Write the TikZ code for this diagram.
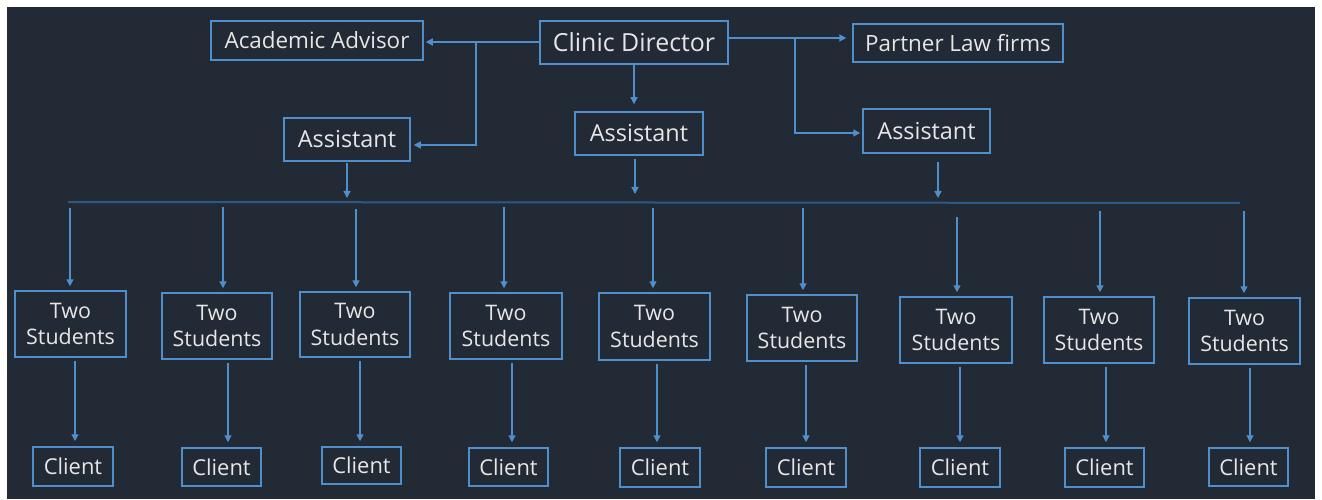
\documentclass[tikz,border=0pt]{standalone}
\usepackage{fontspec}
\setmainfont{Open Sans}
\usetikzlibrary{arrows.meta}
\definecolor{bg}{HTML}{222A35}
\definecolor{ln}{HTML}{4F8FCC}
\definecolor{bus}{HTML}{2C5A88}
\definecolor{tx}{HTML}{E7E6E6}
\tikzset{
  box/.style={draw=ln, line width=1.5bp, inner sep=0pt, text=tx, align=center, fill=bg},
  arr/.style={draw=ln, line width=1.3bp, -{Triangle[length=7bp,width=7bp]}},
  stud/.style={box, font=\fontsize{21.5}{27}\selectfont},
  cli/.style={box, font=\fontsize{22}{26}\selectfont},
}
\begin{document}
\begin{tikzpicture}[x=1bp,y=-1bp]
\useasboundingbox (0,0) rectangle (1322,500);
\fill[white] (0,0) rectangle (1322,500);
\fill[bg] (7,7) rectangle (1315,499);
% top nodes
\node[box, minimum width=188bp, minimum height=43bp, font=\fontsize{25}{28}\selectfont] (cd) at (634,42.5) {Clinic Director};
\node[box, minimum width=212bp, minimum height=39bp, font=\fontsize{22.5}{26}\selectfont] (aa) at (317,40.5) {Academic Advisor};
\node[box, minimum width=210bp, minimum height=38bp, font=\fontsize{22.5}{26}\selectfont] (pl) at (958,43) {Partner Law firms};
\node[box, minimum width=126bp, minimum height=43bp, font=\fontsize{23.5}{27}\selectfont] (al) at (347,139.5) {Assistant};
\node[box, minimum width=128bp, minimum height=43bp, font=\fontsize{23.5}{27}\selectfont] (am) at (639,133.5) {Assistant};
\node[box, minimum width=127bp, minimum height=44bp, font=\fontsize{23.5}{27}\selectfont] (ar) at (926.5,131) {Assistant};
\coordinate (j1) at (476,42);
\coordinate (j2) at (795,38);
\draw[arr, shorten >=2bp] (cd.west |- j1) -- (aa.east |- j1);
\draw[arr, shorten >=3bp] (j1) -- (j1 |- 0,145) -- (al.east |- 0,145);
\draw[arr, shorten >=7bp] (cd.south -| 634,0) -- (am.north -| 634,0);
\draw[arr, shorten >=6bp] (cd.east |- j2) -- (pl.west |- j2);
\draw[arr, shorten >=2bp] (j2) -- (j2 |- 0,133) -- (ar.west |- 0,133);
% bus
\coordinate (b1) at (68,202);
\coordinate (b2) at (1240,203);
\draw[draw=bus, line width=2bp] (b1) -- (b2);
\draw[arr, shorten <=1bp, shorten >=4bp] (al.south -| 347,0) -- (b1 -| 347,0);
\draw[arr, shorten <=3bp, shorten >=8bp] (am.south -| 635,0) -- (b1 -| 635,0);
\draw[arr, shorten <=8bp, shorten >=5bp] (ar.south -| 938,0) -- (b2 -| 938,0);
% columns
\foreach \i/\ax/\ay/\xa/\ya/\xb/\yb/\bx/\ca/\cb/\cc/\cd in {
  1/70/208/15/291/126/357/75/33/447/113/486,
  2/223/207/162/293/272/359/228/182/448/261/486,
  3/356/209/300/292/410/357/360/322/447/401/484,
  4/504/207/450/293/562/359/512/469/448/548/486,
  5/653/208/599/293/710/360/657/620/448/700/487,
  6/803/208/747/295/857/361/806/766/448/846/487,
  7/957/217/900/297/1012/363/960/920/448/1000/487,
  8/1100/211/1044/297/1154/363/1106/1065/448/1144/487,
  9/1244/211/1189/298/1300/364/1250/1209/448/1288/486}{
  \node[stud, minimum width={(\xb-\xa)*1bp}, minimum height={(\yb-\ya)*1bp}] (s\i) at ({(\xa+\xb)/2},{(\ya+\yb)/2}) {Two\\Students};
  \node[cli, minimum width={(\cc-\ca)*1bp}, minimum height={(\cd-\cb)*1bp}] (c\i) at ({(\ca+\cc)/2},{(\cb+\cd)/2}) {Client};
  \coordinate (u\i) at (\ax,\ay);
  \coordinate (v\i) at (\bx,0);
  \draw[arr, shorten >=4bp] (u\i) -- (u\i |- s\i.north);
  \draw[arr, shorten <=3bp, shorten >=5bp] (s\i.south -| v\i) -- (c\i.north -| v\i);
}
\end{tikzpicture}
\end{document}
